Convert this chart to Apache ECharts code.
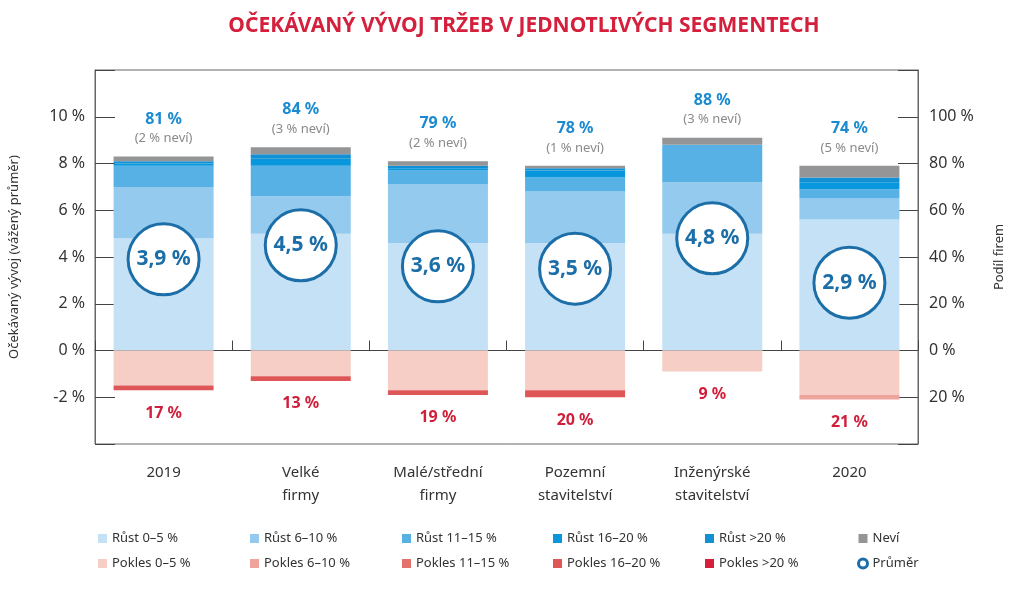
<!DOCTYPE html>
<html>
<head>
<meta charset="utf-8">
<script src="https://cdn.jsdelivr.net/npm/echarts@6/dist/echarts.min.js"></script>
<style>
html,body{margin:0;padding:0;background:#fff;}
#chart{width:1024px;height:593px;}
</style>
</head>
<body>
<div id="chart"></div>
<script>
// ---- data ----
const categories = ['2019', 'Velké\nfirmy', 'Malé/střední\nfirmy', 'Pozemní\nstavitelství', 'Inženýrské\nstavitelství', '2020'];
const rust0_5    = [48, 50, 46, 46, 50, 56];
const rust6_10   = [22, 16, 25, 22, 22, 9];
const rust11_15  = [9, 13, 6, 6, 16, 4];
const rust16_20  = [1, 3, 1, 3, 0, 3];
const rust20plus = [1, 2, 1, 1, 0, 2];
const nevi       = [2, 3, 2, 1, 3, 5];
const pokles0_5    = [15, 11, 17, 17, 9, 19];
const pokles6_10   = [0, 0, 0, 0, 0, 2];
const pokles11_15  = [0, 0, 0, 0, 0, 0];
const pokles16_20  = [2, 2, 2, 3, 0, 0];
const pokles20plus = [0, 0, 0, 0, 0, 0];
const rustCelkem   = [81, 84, 79, 78, 88, 74];
const poklesCelkem = [17, 13, 19, 20, 9, 21];
const prumer       = [3.9, 4.5, 3.6, 3.5, 4.8, 2.9];
const leftTicks  = [-2, 0, 2, 4, 6, 8, 10];
const rightTicks = [-20, 0, 20, 40, 60, 80, 100];

const FONT = '"Noto Sans", sans-serif';
const C = {
  r1: '#c5e1f5', r2: '#93caed', r3: '#57b1e4', r4: '#0897dc', r5: '#1290d4',
  nevi: '#949596',
  p1: '#f6cec6', p2: '#eea49c', p3: '#e3716c', p4: '#df5656', p5: '#d6203b',
  ring: '#1b6ea8'
};

function bar(name, data, color, sign) {
  return {
    name: name, type: 'bar', stack: 'a', xAxisIndex: 0, yAxisIndex: 1,
    barWidth: 100, data: data.map(v => sign * v),
    itemStyle: { color: color }, emphasis: { disabled: true }, z: 2
  };
}
const fmt = v => v.toFixed(1).replace('.', ',') + ' %';

const series = [
  bar('Růst 0–5 %', rust0_5, C.r1, 1),
  bar('Růst 6–10 %', rust6_10, C.r2, 1),
  bar('Růst 11–15 %', rust11_15, C.r3, 1),
  bar('Růst 16–20 %', rust16_20, C.r4, 1),
  bar('Růst >20 %', rust20plus, C.r5, 1),
  bar('Neví', nevi, C.nevi, 1),
  bar('Pokles 0–5 %', pokles0_5, C.p1, -1),
  bar('Pokles 6–10 %', pokles6_10, C.p2, -1),
  bar('Pokles 11–15 %', pokles11_15, C.p3, -1),
  bar('Pokles 16–20 %', pokles16_20, C.p4, -1),
  bar('Pokles >20 %', pokles20plus, C.p5, -1),
  {
    name: 'topLabels', type: 'scatter', xAxisIndex: 0, yAxisIndex: 1,
    symbolSize: 0, silent: true, itemStyle: { opacity: 1 },
    data: rustCelkem.map((v, i) => v + nevi[i]),
    label: {
      show: true, position: 'top', distance: 9,
      formatter: p => '{a|' + rustCelkem[p.dataIndex] + ' %}\n{b|(' + nevi[p.dataIndex] + ' % neví)}',
      rich: {
        a: { fontFamily: FONT, fontSize: 16, fontWeight: 'bold', color: '#1a8bd0', lineHeight: 21, align: 'center' },
        b: { fontFamily: FONT, fontSize: 13, color: '#8a8a8a', lineHeight: 18, align: 'center' }
      }
    }
  },
  {
    name: 'bottomLabels', type: 'scatter', xAxisIndex: 0, yAxisIndex: 1,
    symbolSize: 0, silent: true, itemStyle: { opacity: 1 },
    data: poklesCelkem.map(v => -v),
    label: {
      show: true, position: 'bottom', distance: 15,
      formatter: p => poklesCelkem[p.dataIndex] + ' %',
      fontFamily: FONT, fontSize: 16, fontWeight: 'bold', color: '#d01f3a'
    }
  },
  {
    name: 'Průměr', type: 'scatter', xAxisIndex: 0, yAxisIndex: 0,
    symbol: 'circle', symbolSize: 71, z: 5,
    data: prumer,
    itemStyle: { color: '#ffffff', borderColor: C.ring, borderWidth: 3, opacity: 1 },
    emphasis: { disabled: true },
    label: {
      show: true, position: 'inside',
      formatter: p => fmt(prumer[p.dataIndex]),
      fontFamily: FONT, fontSize: 21, fontWeight: 'bold', color: C.ring
    }
  }
];

function legendCol(left, names) {
  return {
    orient: 'vertical', left: left, top: 527, itemGap: 12,
    itemWidth: 9, itemHeight: 9, icon: 'rect',
    selectedMode: false,
    textStyle: { fontFamily: FONT, fontSize: 13, color: '#333' },
    data: names
  };
}

const option = {
  animation: false,
  title: {
    text: 'OČEKÁVANÝ VÝVOJ TRŽEB V JEDNOTLIVÝCH SEGMENTECH',
    left: 519, textAlign: 'center', top: 11,
    textStyle: { fontFamily: FONT, fontSize: 21, fontWeight: 'bold', color: '#d4203c' }
  },
  grid: {
    left: 94, right: 106, top: 70, bottom: 149,
    show: true, borderColor: '#666', borderWidth: 1, backgroundColor: 'transparent'
  },
  legend: [
    legendCol(93, ['Růst 0–5 %', 'Pokles 0–5 %']),
    legendCol(245, ['Růst 6–10 %', 'Pokles 6–10 %']),
    legendCol(397, ['Růst 11–15 %', 'Pokles 11–15 %']),
    legendCol(548, ['Růst 16–20 %', 'Pokles 16–20 %']),
    legendCol(700, ['Růst >20 %', 'Pokles >20 %']),
    legendCol(852, ['Neví', { name: 'Průměr', icon: 'circle', itemStyle: { color: '#fff', borderColor: C.ring, borderWidth: 3, opacity: 1 } }])
  ],
  xAxis: [
    {
      type: 'category', data: categories, position: 'bottom',
      axisLine: { show: true, onZero: true, lineStyle: { color: '#444', width: 1 } },
      axisTick: { show: true, inside: true, length: 10, lineStyle: { color: '#444' } },
      axisLabel: { show: false }
    },
    {
      type: 'category', data: categories, position: 'bottom',
      axisLine: { show: false, onZero: false },
      axisTick: { show: false },
      axisLabel: { show: true, margin: 17, fontFamily: FONT, fontSize: 15, color: '#333', lineHeight: 23 }
    }
  ],
  yAxis: [
    {
      type: 'value', position: 'left', min: -4, max: 12, interval: 2,
      name: 'Očekávaný vývoj (vážený průměr)', nameLocation: 'middle', nameGap: 74, nameRotate: 90,
      nameTextStyle: { fontFamily: FONT, fontSize: 13, color: '#333' },
      axisLine: { show: true, lineStyle: { color: '#666' } },
      axisTick: { show: true, inside: true, length: 20, lineStyle: { color: '#444' } },
      splitLine: { show: false },
      axisLabel: {
        margin: 10, fontFamily: FONT, fontSize: 16, color: '#333',
        formatter: v => leftTicks.includes(v) ? v + ' %' : ''
      }
    },
    {
      type: 'value', position: 'right', min: -40, max: 120, interval: 20,
      name: 'Podíl firem', nameLocation: 'middle', nameGap: 75, nameRotate: 90,
      nameTextStyle: { fontFamily: FONT, fontSize: 13, color: '#333' },
      axisLine: { show: true, lineStyle: { color: '#666' } },
      axisTick: { show: true, inside: true, length: 20, lineStyle: { color: '#444' } },
      splitLine: { show: false },
      axisLabel: {
        margin: 11, fontFamily: FONT, fontSize: 16, color: '#333',
        formatter: v => rightTicks.includes(v) ? Math.abs(v) + ' %' : ''
      }
    }
  ],
  series: series
};

const chart = echarts.init(document.getElementById('chart'), null, { renderer: 'canvas' });
chart.setOption(option);
</script>
</body>
</html>
